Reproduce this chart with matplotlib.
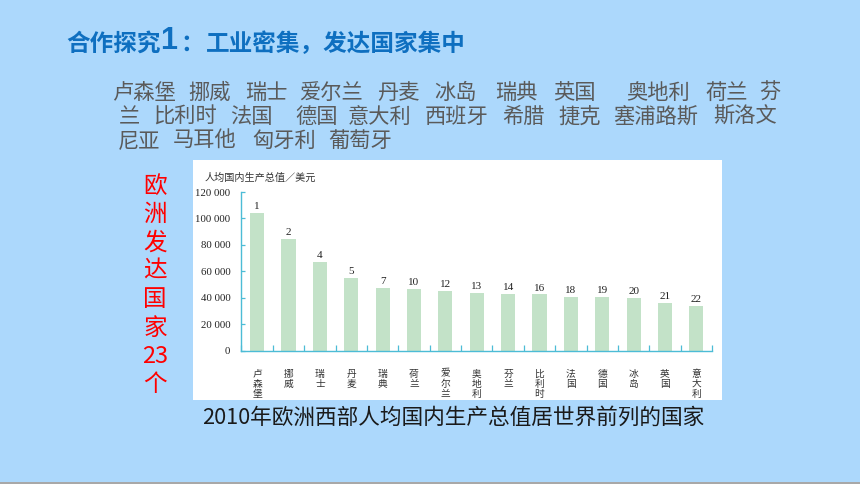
import matplotlib
matplotlib.use("Agg")
import matplotlib.pyplot as plt
from matplotlib.patches import Rectangle
from matplotlib.ticker import FixedLocator

plt.rcParams['font.family'] = ['Noto Sans CJK SC', 'DejaVu Sans']

# data
countries = ['卢森堡', '挪威', '瑞士', '丹麦', '瑞典', '荷兰', '爱尔兰', '奥地利',
             '芬兰', '比利时', '法国', '德国', '冰岛', '英国', '意大利']
gdp = [104400, 84400, 66800, 54700, 47500, 46200, 45400, 43400,
       42900, 42400, 40700, 40400, 39400, 36200, 33900]
ranks = [1, 2, 4, 5, 7, 10, 12, 13, 14, 16, 18, 19, 20, 21, 22]
yticks = [0, 20000, 40000, 60000, 80000, 100000, 120000]

title_a = '合作探究'
title_b = '1'
title_c = '工业密集，发达国家集中'
side_note = ['欧', '洲', '发', '达', '国', '家', '23', '个']
caption = '2010年欧洲西部人均国内生产总值居世界前列的国家'
ylabel = '人均国内生产总值／美元'
# country list paragraph, words per line with their left x (px)
line1 = [('卢森堡', 112), ('挪威', 188), ('瑞士', 245), ('爱尔兰', 299), ('丹麦', 377),
         ('冰岛', 434), ('瑞典', 495), ('英国', 553), ('奥地利', 626), ('荷兰', 705), ('芬', 759)]
line2 = [('兰', 119), ('比利时', 153), ('法国', 230), ('德国', 295), ('意大利', 348),
         ('西班牙', 425), ('希腊', 502), ('捷克', 558), ('塞浦路斯', 613), ('斯洛文', 713)]
line3 = [('尼亚', 118), ('马耳他', 173), ('匈牙利', 252), ('葡萄牙', 328)]

W, H = 860, 484
BG = '#acd8fc'
AXC = '#4cbcd6'

def fx(x):
    return x / W

def fy(y):
    return 1 - y / H

fig = plt.figure(figsize=(8.6, 4.84), dpi=100, facecolor=BG)

# white chart card
fig.patches.append(Rectangle((fx(193), fy(400)), (722 - 193) / W, (400 - 160) / H,
                             transform=fig.transFigure, facecolor='white', edgecolor='none', zorder=-10))
# thin grey line at the bottom of the slide
fig.patches.append(Rectangle((0, 0), 1, 2 / H, transform=fig.transFigure,
                             facecolor='#a8a8a8', edgecolor='none', zorder=-10))

# title
fig.text(fx(66), fy(44), title_a, fontsize=17, fontweight='bold', color='#0e6fc0', va='center')
fig.text(fx(160), fy(41), title_b, fontsize=22, fontweight='bold', color='#0e6fc0', va='center',
         family=['Liberation Sans', 'DejaVu Sans'])
fig.text(fx(180), fy(44), '：', fontsize=17, fontweight='bold', color='#0e6fc0', va='center')
fig.text(fx(206), fy(44), title_c, fontsize=17, fontweight='bold', color='#0e6fc0', va='center')

# country list
for words, y in [(line1, 93), (line2, 117), (line3, 141)]:
    for w, x in words:
        fig.text(fx(x), fy(y), w, fontsize=15.3, color='#5a5a5a', va='center')

# red vertical note
for i, ch in enumerate(side_note):
    fig.text(fx(155), fy(186 + i * 28.4), ch, fontsize=17, color='#ff0000',
             va='center', ha='center')

# caption
fig.text(fx(453), fy(418), caption, fontsize=15.6, color='#1a1a1a', va='center', ha='center')

# bar chart
x0, x1, y0, y1 = 241.5, 712, 350.5, 192
ax = fig.add_axes([fx(x0), fy(y0), (x1 - x0) / W, (y0 - y1) / H])
ax.set_facecolor('none')
pos = list(range(len(countries)))
bars = ax.bar(pos, gdp, width=0.45, color='#c3e2c8', zorder=2)
for b, r in zip(bars, ranks):
    ax.text(b.get_x() + b.get_width() / 2, b.get_height() + 1500, str(r), ha='center', va='bottom',
            fontsize=8, color='#222222', family=['Liberation Serif', 'DejaVu Serif'])

ax.set_xlim(-0.5, len(countries) - 0.5)
ax.set_ylim(0, 120000)
ax.set_yticks(yticks)
ax.set_yticklabels([f'{v:,}'.replace(',', ' ') for v in yticks],
                   family=['Liberation Serif', 'DejaVu Serif'], fontsize=7.8, color='#222222')
ax.set_xticks(pos)
ax.set_xticklabels(['\n'.join(c) for c in countries], fontsize=7, color='#333333',
                   linespacing=1.05, va='top')
ax.xaxis.set_minor_locator(FixedLocator([p - 0.5 for p in pos] + [len(pos) - 0.5]))
ax.tick_params(axis='x', which='major', length=0, pad=13)
ax.tick_params(axis='x', which='minor', length=4, direction='in', color=AXC, width=0.9)
ax.tick_params(axis='y', length=3, direction='in', color=AXC, width=0.9, pad=8)
for s in ['top', 'right']:
    ax.spines[s].set_visible(False)
for s in ['left', 'bottom']:
    ax.spines[s].set_color(AXC)
    ax.spines[s].set_linewidth(1.0)

fig.text(fx(205), fy(178), ylabel, fontsize=7.3, color='#333333', va='center')

fig.savefig('out.png', dpi=100, facecolor=BG)
